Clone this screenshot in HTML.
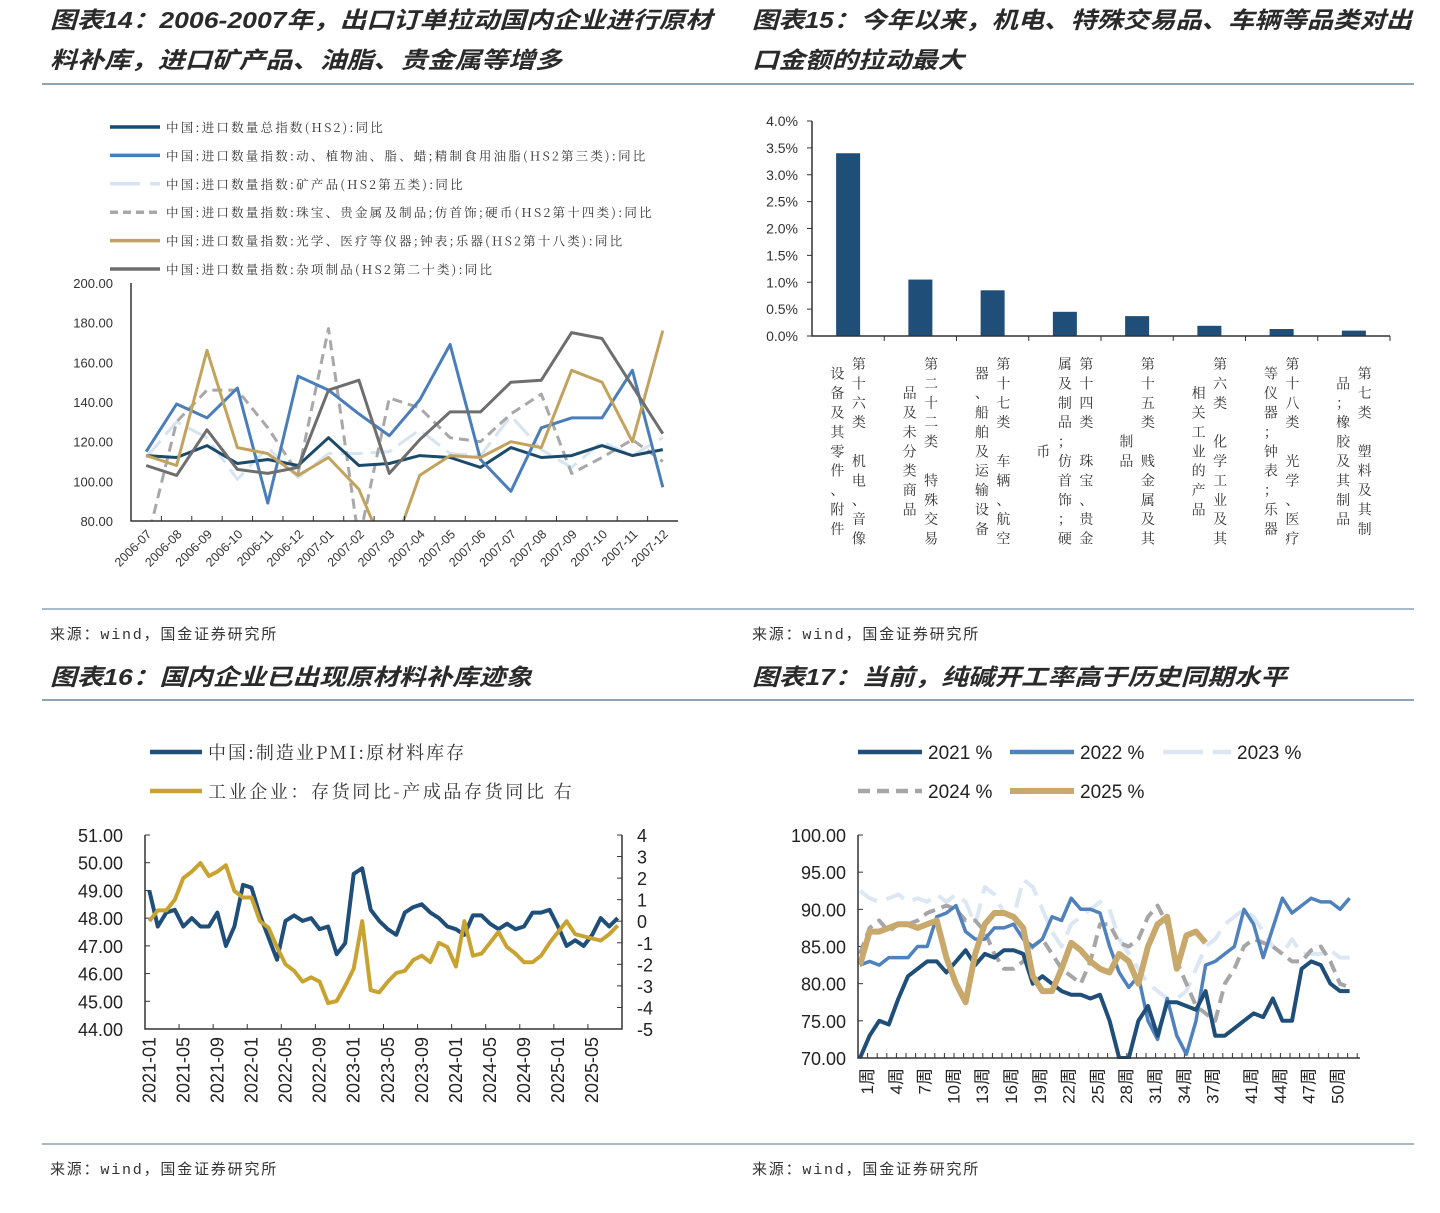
<!DOCTYPE html>
<html><head><meta charset="utf-8">
<style>
html,body{margin:0;padding:0;background:#fff;}
svg{display:block;font-family:"Liberation Sans","Noto Sans CJK SC",sans-serif;}
.ttl{font-family:"Liberation Sans","Noto Sans CJK SC",sans-serif;font-style:italic;font-weight:bold;font-size:23px;fill:#2a2a2a;}
.src{font-family:"Liberation Mono","Noto Sans CJK SC",monospace;font-size:15px;fill:#333;letter-spacing:1.8px;}
.leg{font-family:"Noto Serif CJK SC","Noto Sans CJK SC",serif;fill:#333;}
</style></head>
<body>
<svg id="page" width="1440" height="1213" viewBox="0 0 1440 1213" xmlns="http://www.w3.org/2000/svg">
<defs>
<clipPath id="c14"><rect x="131" y="283" width="547" height="238"/></clipPath>
<clipPath id="c17"><rect x="858" y="830" width="505" height="229"/></clipPath>
</defs>
<text class="ttl" x="50" y="28" textLength="662" lengthAdjust="spacingAndGlyphs">图表14：2006-2007年，出口订单拉动国内企业进行原材</text>
<text class="ttl" x="50" y="68" textLength="512" lengthAdjust="spacingAndGlyphs">料补库，进口矿产品、油脂、贵金属等增多</text>
<text class="ttl" x="752" y="28" textLength="660" lengthAdjust="spacingAndGlyphs">图表15：今年以来，机电、特殊交易品、车辆等品类对出</text>
<text class="ttl" x="752" y="68" textLength="212" lengthAdjust="spacingAndGlyphs">口金额的拉动最大</text>
<text class="ttl" x="50" y="685" textLength="482" lengthAdjust="spacingAndGlyphs">图表16：国内企业已出现原材料补库迹象</text>
<text class="ttl" x="752" y="685" textLength="535" lengthAdjust="spacingAndGlyphs">图表17：当前，纯碱开工率高于历史同期水平</text>
<line x1="42" y1="84" x2="1414" y2="84" stroke="#8fa4b6" stroke-width="2"/>
<line x1="42" y1="609" x2="1414" y2="609" stroke="#8fa4b6" stroke-width="1.5"/>
<line x1="42" y1="700" x2="1414" y2="700" stroke="#8fa4b6" stroke-width="2"/>
<line x1="42" y1="1144" x2="1414" y2="1144" stroke="#8fa4b6" stroke-width="1.5"/>
<text class="src" x="50" y="639">来源：wind，国金证券研究所</text>
<text class="src" x="752" y="639">来源：wind，国金证券研究所</text>
<text class="src" x="50" y="1174">来源：wind，国金证券研究所</text>
<text class="src" x="752" y="1174">来源：wind，国金证券研究所</text>
<g id="g14"></g>
<g id="g15"></g>
<g id="g16"></g>
<g id="g17"></g>
</svg>
<script>
// ===== Chart 14 data =====
const c14Cats = ["2006-07","2006-08","2006-09","2006-10","2006-11","2006-12","2007-01","2007-02","2007-03","2007-04","2007-05","2007-06","2007-07","2007-08","2007-09","2007-10","2007-11","2007-12"];
const c14Total = [113,112,118,109,111,108,122,108,109,113,112,107,117,112,113,118,113,116];
const c14Oils = [115,139,132,147,89,153,146,134,123,141,169,111,95,127,132,132,156,97];
const c14Minerals = [112,130,122,101,117,102,114,114,115,126,114,113,133,116,107,120,113,122];
const c14Jewelry = [68,130,146,146,127,104,177,70,142,137,122,120,134,144,104,112,121,110];
const c14Optical = [113,108,166,117,114,103,112,96,60,103,113,112,120,117,156,150,120,176];
const c14Misc = [108,103,126,106,104,107,146,151,104,121,135,135,150,151,175,172,148,124];
const c14Ticks = [80,100,120,140,160,180,200];
const c14Legend = ["中国:进口数量总指数(HS2):同比","中国:进口数量指数:动、植物油、脂、蜡;精制食用油脂(HS2第三类):同比","中国:进口数量指数:矿产品(HS2第五类):同比","中国:进口数量指数:珠宝、贵金属及制品;仿首饰;硬币(HS2第十四类):同比","中国:进口数量指数:光学、医疗等仪器;钟表;乐器(HS2第十八类):同比","中国:进口数量指数:杂项制品(HS2第二十类):同比"];

// ===== Chart 15 data =====
const c15Values = [3.4,1.05,0.85,0.45,0.37,0.19,0.13,0.1];
const c15Labels = [["第十六类　机电、音像","设备及其零件、附件"],["第二十二类　特殊交易","品及未分类商品"],["第十七类　车辆、航空","器、船舶及运输设备"],["第十四类　珠宝、贵金","属及制品；仿首饰；硬","币"],["第十五类　贱金属及其","制品"],["第六类　化学工业及其","相关工业的产品"],["第十八类　光学、医疗","等仪器；钟表；乐器"],["第七类　塑料及其制","品；橡胶及其制品"]];
const c15Ticks = [0,0.5,1.0,1.5,2.0,2.5,3.0,3.5,4.0];

// ===== Chart 16 data =====
const c16Months = ["2021-01","2021-02","2021-03","2021-04","2021-05","2021-06","2021-07","2021-08","2021-09","2021-10","2021-11","2021-12","2022-01","2022-02","2022-03","2022-04","2022-05","2022-06","2022-07","2022-08","2022-09","2022-10","2022-11","2022-12","2023-01","2023-02","2023-03","2023-04","2023-05","2023-06","2023-07","2023-08","2023-09","2023-10","2023-11","2023-12","2024-01","2024-02","2024-03","2024-04","2024-05","2024-06","2024-07","2024-08","2024-09","2024-10","2024-11","2024-12","2025-01","2025-02","2025-03","2025-04","2025-05","2025-06","2025-07","2025-08"];
const c16Pmi = [49.0,47.7,48.2,48.3,47.7,48.0,47.7,47.7,48.2,47.0,47.7,49.2,49.1,48.1,47.3,46.5,47.9,48.1,47.9,48.0,47.6,47.7,46.7,47.1,49.6,49.8,48.3,47.9,47.6,47.4,48.2,48.4,48.5,48.2,48.0,47.7,47.6,47.4,48.1,48.1,47.8,47.6,47.8,47.6,47.7,48.2,48.2,48.3,47.7,47.0,47.2,47.0,47.4,48.0,47.7,48.0];
const c16Inv = [0.0,0.5,0.5,1.0,2.0,2.3,2.7,2.1,2.3,2.6,1.4,1.1,1.1,0.0,-0.3,-1.2,-2.0,-2.3,-2.8,-2.6,-2.8,-3.8,-3.7,-3.0,-2.2,0.0,-3.2,-3.3,-2.8,-2.4,-2.3,-1.8,-1.6,-1.9,-1.0,-1.2,-2.1,0.0,-1.6,-1.5,-1.0,-0.5,-1.2,-1.5,-1.9,-1.9,-1.6,-1.0,-0.5,0.0,-0.6,-0.7,-0.8,-0.9,-0.6,-0.2];
const c16LeftTicks = [44,45,46,47,48,49,50,51];
const c16RightTicks = [-5,-4,-3,-2,-1,0,1,2,3,4];
const c16LabelMonths = ["2021-01","2021-05","2021-09","2022-01","2022-05","2022-09","2023-01","2023-05","2023-09","2024-01","2024-05","2024-09","2025-01","2025-05"];

// ===== Chart 17 data =====
const c17Weeks = 52;
const c17Y2021 = [70,73,75,74.5,78,81,82,83,83,81.5,83,84.5,82.5,84,83.5,84.5,84.5,84,80,81,80,79,78.5,78.5,78,78.5,75,70,70,75,77,73,77.5,77.5,77,76.5,79,73,73,74,75,76,75.5,78,75,75,82,83,82.5,80,79,79];
const c17Y2022 = [82.5,83,82.5,83.5,83.5,83.5,85,85,89,89.5,90.5,87,86,86,87.5,87.5,88,86,85,86,89,88.5,91.5,90,90,89.5,85,81.5,79.5,81,75,72.5,78,73,70.5,75,82.5,83,84,85,90,88,83.5,87.5,91.5,89.5,90.5,91.5,91,91,90,91.5];
const c17Y2023 = [92.5,91.5,91,91.5,92,91,91.5,91,92,91,92,91,88,93,92,89.5,89,94,93,90,87,85,88,89,90,91,90,86,84,82,80,79,78,78,79,82,85,86,88,89,90,89,87,85,84,86,84,84,84,84.5,83.5,83.5];
const c17Y2024 = [84,87.5,88.5,87,88,88,88.5,89.5,90,90.5,90,88.5,88.5,87,84,82,82,83,85,86,84,82,81,80,83,88,88,85.5,85,86,89,90.5,88,83,80,77,76,75,80,82,85,86,85.5,85,84,83,83,84.5,85,83,80,79.5];
const c17Y2025 = [82.5,87,87,87.5,88,88,87.5,88,88.5,83.5,80,77.5,84,88,89.5,89.5,89,87.5,81,79,79,82,85.5,84.5,83,82,81.5,84,83,80,85,88,89,82,86.5,87,85.5];
const c17Ticks = [70,75,80,85,90,95,100];
const c17LabelWeeks = [1,4,7,10,13,16,19,22,25,28,31,34,37,41,44,47,50];

const NS = "http://www.w3.org/2000/svg";
function mk(parent, tag, attrs, txt){
  const e = document.createElementNS(NS, tag);
  for (const k in attrs) e.setAttribute(k, attrs[k]);
  if (txt !== undefined) e.textContent = txt;
  parent.appendChild(e);
  return e;
}
function pathD(xs, ys){ return xs.map((x,i)=>(i?"L":"M")+x.toFixed(1)+","+ys[i].toFixed(1)).join(""); }

// ===== Chart 14 =====
(function(){
  const g = document.getElementById("g14");
  const L=131,R=678,T=283,B=521, vmin=80, vmax=200;
  const step=(R-L)/c14Cats.length;
  const x=i=>L+(i+0.5)*step;
  const y=v=>B-(v-vmin)/(vmax-vmin)*(B-T);
  const styles=[
    {d:c14Total,c:"#1b4a6b",w:3,da:"",n:"series-total-index"},
    {d:c14Oils,c:"#4a7ebb",w:3,da:"",n:"series-oils"},
    {d:c14Minerals,c:"#d6e3f0",w:3,da:"22,8",n:"series-minerals"},
    {d:c14Jewelry,c:"#a8a8a8",w:3,da:"10,6",n:"series-jewelry"},
    {d:c14Optical,c:"#c2a35e",w:3,da:"",n:"series-optical"},
    {d:c14Misc,c:"#6e6e6e",w:3,da:"",n:"series-misc"}];
  c14Ticks.forEach(t=>{
    const tl=mk(g,"text",{x:113,y:y(t)+5,"text-anchor":"end","font-size":13,fill:"#333"},t.toFixed(2));
    
    
  });
  const plot=mk(g,"g",{"clip-path":"url(#c14)"});
  
  
  const order=[2,3,0,1,4,5];
  order.forEach(k=>{
    const s=styles[k];
    const p=mk(plot,"path",{d:pathD(s.d.map((v,i)=>x(i)),s.d.map(y)),fill:"none",stroke:s.c,"stroke-width":s.w,"stroke-dasharray":s.da,"stroke-linejoin":"round"});
    
    
  });
  const ax=mk(g,"path",{d:`M${L},${T}L${L},${B}L${R},${B}`,fill:"none",stroke:"#333","stroke-width":1.5});
  
  
  c14Cats.forEach((c,i)=>{
    const tk=mk(g,"line",{x1:L+i*step,y1:B,x2:L+i*step,y2:B-5,stroke:"#333"});
    
    
    const t=mk(g,"text",{x:x(i)+6,y:B+14,"text-anchor":"end","font-size":12.5,fill:"#333",transform:`rotate(-45 ${x(i)+6} ${B+14})`},c);
    
    
  });
  c14Legend.forEach((txt,i)=>{
    const s=styles[i], ly=127+i*28.4;
    const ln=mk(g,"line",{x1:110,y1:ly,x2:160,y2:ly,stroke:s.c,"stroke-width":3.5,"stroke-dasharray":i==2?"30,10":(i==3?"8,5":"")});
    
    
    const t=mk(g,"text",{x:166,y:ly+5,"font-size":12.5,"letter-spacing":"2.2px",class:"leg"},txt);
    
    
  });
})();

// ===== Chart 15 =====
(function(){
  const g=document.getElementById("g15");
  const L=812,R=1390,T=121,B=336,vmax=4.0;
  const step=(R-L)/c15Values.length;
  const y=v=>B-v/vmax*(B-T);
  c15Ticks.forEach(t=>{
    const tl=mk(g,"text",{x:798,y:y(t)+5,"text-anchor":"end","font-size":14,fill:"#333"},t.toFixed(1)+"%");
    
    
    const tk=mk(g,"line",{x1:L-5,y1:y(t),x2:L,y2:y(t),stroke:"#333"});
    
    
  });
  c15Values.forEach((v,i)=>{
    const cx=L+(i+0.5)*step;
    const b=mk(g,"rect",{x:cx-12,y:y(v),width:24,height:B-y(v),fill:"#1f4e79"});
    
    
    const tk=mk(g,"line",{x1:L+(i+1)*step,y1:B,x2:L+(i+1)*step,y2:B+5,stroke:"#333"});
    
    
    const cols=c15Labels[i], n=cols.length, cy=452, rh=19.4;
    const lg=mk(g,"g",{});
    
    
    cols.forEach((col,j)=>{
      const colX=cx+((n-1)/2-j)*21.5;
      const chars=[...col];
      const top=cy-(chars.length*rh)/2;
      chars.forEach((ch,k)=>{
        const t=mk(lg,"text",{x:colX,y:top+k*rh+14,"text-anchor":"middle","font-size":14,class:"leg"},ch);
        
        
      });
    });
  });
  const ax=mk(g,"path",{d:`M${L},${T}L${L},${B}L${R},${B}`,fill:"none",stroke:"#333","stroke-width":1.5});
  
  
})();

// ===== Chart 16 =====
(function(){
  const g=document.getElementById("g16");
  const L=145,R=622,T=835,B=1029;
  const step=(R-L)/c16Months.length;
  const x=i=>L+(i+0.5)*step;
  const yl=v=>B-(v-44)/7*(B-T);
  const yr=v=>B-(v+5)/9*(B-T);
  c16LeftTicks.forEach(t=>{
    const tl=mk(g,"text",{x:123,y:yl(t)+7,"text-anchor":"end","font-size":18,fill:"#222"},t.toFixed(2));
    
    
    const tk=mk(g,"line",{x1:L,y1:yl(t),x2:L+5,y2:yl(t),stroke:"#333"});
    
    
  });
  c16RightTicks.forEach(t=>{
    const tl=mk(g,"text",{x:637,y:yr(t)+7,"font-size":18,fill:"#222"},String(t));
    
    
    const tk=mk(g,"line",{x1:R,y1:yr(t),x2:R-5,y2:yr(t),stroke:"#333"});
    
    
  });
  const ax=mk(g,"path",{d:`M${L},${T}L${L},${B}L${R},${B}L${R},${T}`,fill:"none",stroke:"#333","stroke-width":1.5});
  
  
  const p1=mk(g,"path",{d:pathD(c16Pmi.map((v,i)=>x(i)),c16Pmi.map(yl)),fill:"none",stroke:"#1f4e79","stroke-width":4,"stroke-linejoin":"round"});
  
  
  const p2=mk(g,"path",{d:pathD(c16Inv.map((v,i)=>x(i)),c16Inv.map(yr)),fill:"none",stroke:"#c9a332","stroke-width":4,"stroke-linejoin":"round"});
  
  
  c16Months.forEach((m,i)=>{
    if(i%4===0){
      const tk=mk(g,"line",{x1:L+i*step,y1:B,x2:L+i*step,y2:B-5,stroke:"#333"});
      
      
    }
    if(c16LabelMonths.indexOf(m)>=0){
      const t=mk(g,"text",{x:x(i)+6,y:B+8,"text-anchor":"end","font-size":18,fill:"#222",transform:`rotate(-90 ${x(i)+6} ${B+8})`},m);
      
      
    }
  });
  const l1=mk(g,"line",{x1:150,y1:752,x2:202,y2:752,stroke:"#1f4e79","stroke-width":4.5});
  
  
  const t1=mk(g,"text",{x:208,y:759,"font-size":18,"letter-spacing":"2px",class:"leg"},"中国:制造业PMI:原材料库存");
  
  
  const l2=mk(g,"line",{x1:150,y1:791,x2:202,y2:791,stroke:"#c9a332","stroke-width":4.5});
  
  
  const t2=mk(g,"text",{x:208,y:798,"font-size":18,"letter-spacing":"2.6px",class:"leg"},"工业企业：存货同比-产成品存货同比 右");
  
  
})();

// ===== Chart 17 =====
(function(){
  const g=document.getElementById("g17");
  const L=858,R=1360,T=835,B=1058;
  const step=9.6;
  const x=i=>L+2+i*step;
  const y=v=>B-(v-70)/30*(B-T);
  c17Ticks.forEach(t=>{
    const tl=mk(g,"text",{x:846,y:y(t)+7,"text-anchor":"end","font-size":18,fill:"#222"},t.toFixed(2));
    
    
    const tk=mk(g,"line",{x1:L,y1:y(t),x2:L+5,y2:y(t),stroke:"#333"});
    
    
  });
  for(let i=0;i<=c17Weeks;i++){
    const tk=mk(g,"line",{x1:L+i*step,y1:B,x2:L+i*step,y2:B-5,stroke:"#333"});
    
    
  }
  const series=[
    {d:c17Y2023,c:"#dce7f3",w:4,da:"20,10",n:"series-2023"},
    {d:c17Y2024,c:"#a6a6a6",w:4,da:"12,7",n:"series-2024"},
    {d:c17Y2022,c:"#4f81bd",w:3.5,da:"",n:"series-2022"},
    {d:c17Y2021,c:"#1f4e79",w:4,da:"",n:"series-2021"},
    {d:c17Y2025,c:"#c8a96b",w:6,da:"",n:"series-2025"}];
  const plot=mk(g,"g",{"clip-path":"url(#c17)"});
  
  
  series.forEach(s=>{
    const p=mk(plot,"path",{d:pathD(s.d.map((v,i)=>x(i)),s.d.map(y)),fill:"none",stroke:s.c,"stroke-width":s.w,"stroke-dasharray":s.da,"stroke-linejoin":"round"});
    
    
  });
  const ax=mk(g,"path",{d:`M${L},${T}L${L},${B}L${R},${B}`,fill:"none",stroke:"#333","stroke-width":1.5});
  
  
  c17LabelWeeks.forEach(w=>{
    const xx=x(w-1)+13;
    const t=mk(g,"text",{x:xx,y:B+10,"text-anchor":"end","font-size":17,fill:"#222",transform:`rotate(-90 ${xx} ${B+10})`},w+"周");
    
    
  });
  const leg=[
    {x:858,y:752,c:"#1f4e79",w:4.5,da:"",t:"2021 %"},
    {x:1010,y:752,c:"#4f81bd",w:4.5,da:"",t:"2022 %"},
    {x:1163,y:752,c:"#dce7f3",w:4.5,da:"40,10",t:"2023 %"},
    {x:858,y:791,c:"#a6a6a6",w:4.5,da:"12,7",t:"2024 %"},
    {x:1010,y:791,c:"#c8a96b",w:6,da:"",t:"2025 %"}];
  leg.forEach(o=>{
    const ex = o.t==="2023 %" ? 68 : 64;
    const l=mk(g,"line",{x1:o.x,y1:o.y,x2:o.x+ex,y2:o.y,stroke:o.c,"stroke-width":o.w,"stroke-dasharray":o.da});
    
    
    const t=mk(g,"text",{x:o.x+ex+6,y:o.y+7,"font-size":19,fill:"#222"},o.t);
    
    
  });
})();
</script>
</body></html>
